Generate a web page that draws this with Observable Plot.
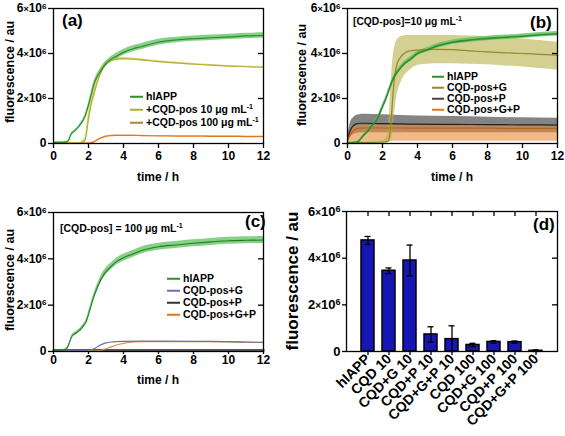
<!DOCTYPE html>
<html><head><meta charset="utf-8">
<script src="https://cdn.jsdelivr.net/npm/d3@7"></script>
<script src="https://cdn.jsdelivr.net/npm/@observablehq/plot@0.6"></script>
<style>
body{margin:0;background:#fff;}
#fig{position:relative;width:565px;height:436px;overflow:hidden;background:#fff;font-family:'Liberation Sans',Arial,sans-serif;font-weight:bold;color:#000;}
.p{position:absolute;}
.t{position:absolute;white-space:nowrap;line-height:1;}
sup{font-size:0.68em;vertical-align:0.5em;line-height:0;}
.sw{display:inline-block;height:2px;vertical-align:middle;}
</style></head><body><div id="fig"></div><script>
// ---------- data (fluorescence in units of 10^6 au, time in h) ----------
const xTicks = [0, 2, 4, 6, 8, 10, 12];
const yTicks = [0, 2, 4, 6];

// panel (a)
const tA = [0,0.4,0.7,0.85,1.0, 1.2,1.5,1.8,2.0,2.15, 2.3,2.45,2.6,2.8,3.0, 3.3,3.6,4.0,4.5,5, 6,7,8,9,10, 11,12];
const hA = [0.05,0.05,0.06,0.12,0.4, 0.55,0.8,1.2,1.7,2.15, 2.6,2.9,3.1,3.35,3.55, 3.75,3.88,4.05,4.2,4.3, 4.5,4.6,4.66,4.7,4.74, 4.78,4.8];
const hA_sd = [0.03,0.03,0.03,0.04,0.05, 0.05,0.06,0.08,0.1,0.12, 0.12,0.12,0.12,0.12,0.12, 0.12,0.13,0.13,0.13,0.13, 0.13,0.12,0.12,0.12,0.12, 0.12,0.12];
const c10A = [0.02,0.02,0.02,0.02,0.02, 0.02,0.03,0.15,1.1,1.75, 2.2,2.6,2.95,3.3,3.52, 3.68,3.75,3.77,3.75,3.72, 3.64,3.58,3.53,3.48,3.44, 3.41,3.39];
const c10A_sd = [0.01,0.01,0.01,0.01,0.01, 0.01,0.02,0.12,0.3,0.3, 0.28,0.22,0.17,0.12,0.09, 0.07,0.06,0.06,0.05,0.05, 0.04,0.04,0.03,0.03,0.03, 0.03,0.03];
const c100A = [0.02,0.02,0.02,0.02,0.02, 0.02,0.02,0.02,0.02,0.03, 0.07,0.13,0.2,0.27,0.32, 0.35,0.36,0.36,0.36,0.35, 0.34,0.33,0.33,0.32,0.32, 0.31,0.31];
const c100A_sd = [0.01,0.01,0.01,0.01,0.01, 0.01,0.01,0.01,0.01,0.01, 0.02,0.02,0.02,0.02,0.02, 0.02,0.02,0.02,0.02,0.02, 0.02,0.02,0.02,0.02,0.02, 0.02,0.02];

// panel (b)
const tB = [0,0.15,0.3,0.5,0.7, 0.9,1.1,1.4,1.7,2.0, 2.2,2.4,2.6,2.8,3.0, 3.3,3.6,4.0,4.5,5, 6,7,8,9,10, 11,12];
const hB = [0.03,0.03,0.04,0.06,0.15, 0.35,0.5,0.8,1.1,1.63, 2.0,2.45,2.85,3.12,3.33, 3.58,3.75,4.0,4.15,4.3, 4.5,4.6,4.67,4.72,4.77, 4.83,4.88];
const hB_sd = [0.02,0.02,0.02,0.03,0.04, 0.05,0.06,0.07,0.08,0.1, 0.1,0.1,0.1,0.1,0.1, 0.1,0.1,0.1,0.1,0.1, 0.1,0.1,0.1,0.1,0.1, 0.1,0.1];
const tGB = [0,1,2,2.3,2.4, 2.5,2.6,2.7,2.8,3.0, 3.2,3.4,3.7,4,4.5, 5,6,7,8,9, 10,11,12];
const gB = [0.05,0.05,0.06,0.1,0.3, 1.1,2.2,3.0,3.45,3.8, 3.98,4.08,4.13,4.15,4.17, 4.18,4.17,4.12,4.07,4.03, 4.0,3.96,3.93];
const gB_hi = [0.1,0.1,0.12,0.4,1.4, 2.8,3.8,4.3,4.55,4.72, 4.78,4.8,4.8,4.8,4.8, 4.8,4.8,4.78,4.75,4.7, 4.65,4.58,4.5];
const gB_lo = [0.02,0.02,0.02,0.03,0.05, 0.15,0.6,1.4,2.0,2.6, 2.95,3.15,3.35,3.47,3.52, 3.55,3.55,3.52,3.5,3.45, 3.4,3.33,3.26];
const tPB = [0,0.1,0.2,0.35,0.5, 0.7,1,2,3,4, 6,8,10,12];
const pB = [0.2,0.45,0.65,0.8,0.87, 0.9,0.9,0.88,0.87,0.86, 0.85,0.84,0.83,0.82];
const pB_hi = [0.3,0.7,1.0,1.15,1.24, 1.28,1.3,1.28,1.25,1.22, 1.2,1.17,1.14,1.12];
const pB_lo = [0.1,0.2,0.3,0.4,0.45, 0.47,0.48,0.48,0.48,0.48, 0.48,0.48,0.48,0.48];
const gpB = [0.1,0.3,0.45,0.58,0.65, 0.68,0.69,0.69,0.69,0.68, 0.68,0.68,0.67,0.67];
const gpB_hi = [0.15,0.45,0.62,0.74,0.78, 0.8,0.8,0.8,0.8,0.79, 0.79,0.78,0.78,0.78];
const gpB_lo = [0.05,0.08,0.1,0.1,0.1, 0.1,0.1,0.1,0.1,0.1, 0.1,0.1,0.1,0.1];

// panel (c)
const tC = [0,0.3,0.6,0.75,0.9, 1.05,1.3,1.6,1.9,2.1, 2.3,2.5,2.7,3.0,3.3, 3.6,4.0,4.5,5,6, 7,8,9,10,11, 12];
const hC = [0.05,0.06,0.07,0.12,0.35, 0.65,0.8,1.0,1.35,1.85, 2.35,2.75,3.1,3.45,3.68, 3.88,4.05,4.2,4.35,4.52, 4.6,4.67,4.73,4.78,4.8, 4.81];
const hC_sd = [0.03,0.03,0.03,0.04,0.05, 0.06,0.07,0.08,0.1,0.12, 0.13,0.14,0.15,0.15,0.15, 0.15,0.15,0.15,0.15,0.15, 0.15,0.15,0.15,0.15,0.15, 0.15];
const tGC = [0,1,2,2.2,2.4, 2.6,2.8,3.0,3.3,3.6, 4,5,6,8,10, 11,12];
const gC = [0.05,0.05,0.06,0.08,0.15, 0.25,0.32,0.37,0.41,0.43, 0.44,0.45,0.45,0.44,0.43, 0.41,0.39];
const tPC = [0,2,4,6,8,10,12];
const pC = [0.04,0.05,0.05,0.05,0.05,0.05,0.05];
const tGPC = [0,1,2,2.6,2.8, 3.0,3.3,3.6,4.0,4.3, 4.6,5,6,8,10, 12];
const gpC = [0.03,0.03,0.03,0.04,0.07, 0.12,0.2,0.28,0.35,0.39, 0.41,0.42,0.42,0.42,0.41, 0.39];

// panel (d)
const cats = ["hIAPP","CQD 10","CQD+G 10","CQD+P 10","CQD+G+P 10","CQD 100","CQD+G 100","CQD+P 100","CQD+G+P 100"];
const barVals = [4.76, 3.46, 3.9, 0.73, 0.53, 0.28, 0.41, 0.4, 0.03];
const barErr = [0.17, 0.12, 0.66, 0.33, 0.57, 0.07, 0.05, 0.05, 0.04];

// ---------- helpers ----------
const FONT = "'Liberation Sans', Arial, Helvetica, sans-serif";
const sd = (t, m, s) => t.map((v, i) => ({t: v, m: m[i], lo: m[i] - s[i], hi: m[i] + s[i]}));
const lh = (t, m, lo, hi) => t.map((v, i) => ({t: v, m: m[i], lo: lo[i], hi: hi[i]}));
const sci = d => d === 0 ? "0" : `${d}×10^6`;
const band = (rows, fill, op) => Plot.areaY(rows, {x: "t", y1: "lo", y2: "hi", fill, fillOpacity: op, curve: "monotone-x"});
const line = (rows, stroke, w) => Plot.line(rows, {x: "t", y: "m", stroke, strokeWidth: w, curve: "monotone-x"});

function fixSci(svg, small) {
  svg.querySelectorAll('g[aria-label="y-axis tick label"] text').forEach(t => {
    const m = t.textContent.match(/^(\d)×10\^6$/);
    if (!m) return;
    t.textContent = "";
    const add = (s, attrs) => {
      const ts = document.createElementNS("http://www.w3.org/2000/svg", "tspan");
      ts.textContent = s;
      for (const k in attrs) ts.setAttribute(k, attrs[k]);
      t.appendChild(ts);
    };
    add(m[1], {});
    add("×", {"font-size": small + "px"});
    add("10", {});
    add("6", {"font-size": (small - 1) + "px", "dy": "-0.45em"});
  });
}

function tsPlot({w, h, mL, mR, mT, mB, layers, xTS, xTP}) {
  const fw = w - mL - mR;
  const svg = Plot.plot({
    width: w, height: h, marginLeft: mL, marginRight: mR, marginTop: mT, marginBottom: mB,
    x: {domain: [0, 12]}, y: {domain: [0, 6]},
    style: {fontFamily: FONT, fontSize: "12px", fontWeight: "bold", color: "#000", background: "transparent", overflow: "visible"},
    marks: [
      ...layers,
      Plot.frame({stroke: "#000", strokeWidth: 1.3}),
      Plot.axisX({ticks: xTicks, tickSize: xTS, tickPadding: xTP, label: null, strokeWidth: 1.3}),
      Plot.axisY({ticks: yTicks, tickSize: 5, tickPadding: 2, tickFormat: sci, label: null, strokeWidth: 1.3}),
      Plot.tickY([2, 4], {y: d => d, insetLeft: fw - 5, stroke: "#000", strokeWidth: 1.3})
    ]
  });
  fixSci(svg, 9);
  return svg;
}

const fig = document.getElementById("fig");
function place(el, x, y) { const d = document.createElement("div"); d.className = "p"; d.style.left = x + "px"; d.style.top = y + "px"; d.appendChild(el); fig.appendChild(d); }
function txt(html, x, y, size, anchor = "center", rot = 0) {
  const d = document.createElement("div"); d.className = "t"; d.innerHTML = html;
  d.style.left = x + "px"; d.style.top = y + "px"; d.style.fontSize = size + "px";
  const tx = anchor === "center" ? "-50%" : "0";
  d.style.transform = `translate(${tx},-50%)` + (rot ? ` rotate(${rot}deg)` : "");
  if (rot) { d.style.transform = `translate(-50%,-50%) rotate(${rot}deg)`; }
  fig.appendChild(d);
}
function legend(items, x, ys, size, swW) {
  items.forEach(([label, color], i) => {
    txt(`<span class="sw" style="width:${swW}px;background:${color}"></span><span style="margin-left:3px">${label}</span>`, x, ys[i], size, "left");
  });
}

// colours
const G_LINE = "#2b8f2b", G_BAND = "#5fc05f";
const OLIVE_A = "#b3ae35", OLIVE_A_BAND = "#d9d67a";
const OLIVE_B = "#8f8b2a", OLIVE_B_BAND = "#b5b04a";
const ORANGE = "#e0781c", ORANGE_BAND = "#e88a3a";
const GREY_LINE = "#222", GREY_BAND = "#6e6e6e";
const PURPLE = "#6f6fa8";

// ---------- panel (a) ----------
const A_h = sd(tA, hA, hA_sd), A_10 = sd(tA, c10A, c10A_sd), A_100 = sd(tA, c100A, c100A_sd);
place(tsPlot({w: 282, h: 200, mL: 53, mR: 19, mT: 8, mB: 57, xTS: 5, xTP: 3, layers: [
  band(A_100, ORANGE_BAND, 0.6), band(A_10, OLIVE_A_BAND, 0.9), band(A_h, G_BAND, 0.75),
  line(A_100, ORANGE, 1.2), line(A_10, OLIVE_A, 1.2), line(A_h, G_LINE, 1.2)
]}), 0, 0);

// ---------- panel (b) ----------
const B_h = sd(tB, hB, hB_sd), B_g = lh(tGB, gB, gB_lo, gB_hi), B_p = lh(tPB, pB, pB_lo, pB_hi), B_gp = lh(tPB, gpB, gpB_lo, gpB_hi);
place(tsPlot({w: 283, h: 200, mL: 65, mR: 8, mT: 8, mB: 57, xTS: 5, xTP: 3, layers: [
  band(B_p, GREY_BAND, 0.85), band(B_gp, ORANGE_BAND, 0.6), band(B_g, OLIVE_B_BAND, 0.6), band(B_h, G_BAND, 0.8),
  line(B_p, GREY_LINE, 1.2), line(B_gp, "#b8651e", 1.2), line(B_g, OLIVE_B, 1.2), line(B_h, G_LINE, 1.6)
]}), 282, 0);

// ---------- panel (c) ----------
const C_h = sd(tC, hC, hC_sd);
const C_g = tGC.map((t, i) => ({t, m: gC[i]}));
const C_p = tPC.map((t, i) => ({t, m: pC[i]}));
const C_gp = tGPC.map((t, i) => ({t, m: gpC[i]}));
place(tsPlot({w: 282, h: 231, mL: 53, mR: 19, mT: 7, mB: 85, xTS: 3, xTP: 1, layers: [
  band(C_h, G_BAND, 0.75),
  line(C_p, "#555", 2.5), line(C_gp, "#e08a3a", 1.1), line(C_g, PURPLE, 1.2), line(C_h, "#1f7f1f", 1.1)
]}), 0, 205);

// ---------- panel (d) ----------
const bars = cats.map((c, i) => ({c, v: barVals[i], e: barErr[i]}));
{
  const w = 283, h = 231, mL = 64, mR = 8, mT = 6, mB = 85;
  const fw = w - mL - mR, fh = h - mT - mB;
  const svg = Plot.plot({
    width: w, height: h, marginLeft: mL, marginRight: mR, marginTop: mT, marginBottom: mB,
    x: {domain: cats, paddingInner: 0.38, paddingOuter: 0.69},
    y: {domain: [0, 6]},
    style: {fontFamily: FONT, fontSize: "13px", fontWeight: "bold", color: "#000", background: "transparent", overflow: "visible"},
    marks: [
      Plot.barY(bars, {x: "c", y: "v", fill: "#1616b4", stroke: "#000", strokeWidth: 1.5}),
      Plot.ruleX(bars, {x: "c", y1: d => Math.max(0, d.v - d.e), y2: d => d.v + d.e, stroke: "#000", strokeWidth: 1.3}),
      Plot.tickY(bars, {x: "c", y: d => d.v + d.e, insetLeft: 3.5, insetRight: 3.5, stroke: "#000", strokeWidth: 1.3}),
      Plot.tickY(bars, {x: "c", y: d => Math.max(0, d.v - d.e), insetLeft: 3.5, insetRight: 3.5, stroke: "#000", strokeWidth: 1.3}),
      Plot.frame({stroke: "#000", strokeWidth: 1.3}),
      Plot.axisX({tickRotate: -45, tickSize: 4, tickPadding: 1, fontSize: 14, fontWeight: "bold", label: null, strokeWidth: 1.3}),
      Plot.axisY({ticks: yTicks, tickSize: 4, tickPadding: 2, tickFormat: sci, label: null, strokeWidth: 1.3}),
      Plot.tickX(cats, {x: d => d, insetBottom: fh - 5, stroke: "#000", strokeWidth: 1.3}),
      Plot.tickY([2, 4], {y: d => d, insetLeft: fw - 5, stroke: "#000", strokeWidth: 1.3})
    ]
  });
  fixSci(svg, 10);
  place(svg, 282, 205);
}

// ---------- text overlays ----------
const mL1 = "mL<sup>-1</sup>";
// (a)
txt("(a)", 62, 20, 17, "left");
legend([["hIAPP", G_LINE], [`+CQD-pos 10 μg ${mL1}`, OLIVE_A], [`+CQD-pos 100 μg ${mL1}`, "#a68a30"]], 130, [96, 109, 122], 10.5, 13);
txt("time / h", 158, 177, 12);
txt("fluorescence / au", 10, 72, 12.5, "center", -90);
// (b)
txt(`[CQD-pos]=10 μg ${mL1}`, 353, 22, 10.3, "left");
txt("(b)", 530, 22, 17, "left");
legend([["hIAPP", G_LINE], ["CQD-pos+G", OLIVE_B], ["CQD-pos+P", "#444"], ["CQD-pos+G+P", ORANGE]], 432, [76, 87, 98, 109], 10.5, 12);
txt("time / h", 452, 177, 12);
txt("fluorescence / au", 302, 75, 12.5, "center", -90);
// (c)
txt(`[CQD-pos] = 100 μg ${mL1}`, 60, 228, 10.5, "left");
txt("(c)", 245, 221, 17, "left");
legend([["hIAPP", G_LINE], ["CQD-pos+G", PURPLE], ["CQD-pos+P", "#333"], ["CQD-pos+G+P", ORANGE]], 167, [278, 290, 302, 314], 10.5, 13);
txt("time / h", 158, 380, 12);
txt("fluorescence / au", 10, 280, 12.5, "center", -90);
// (d)
txt("(d)", 533, 224, 17, "left");
txt("fluorescence / au", 292, 281, 17, "center", -90);
</script></body></html>
